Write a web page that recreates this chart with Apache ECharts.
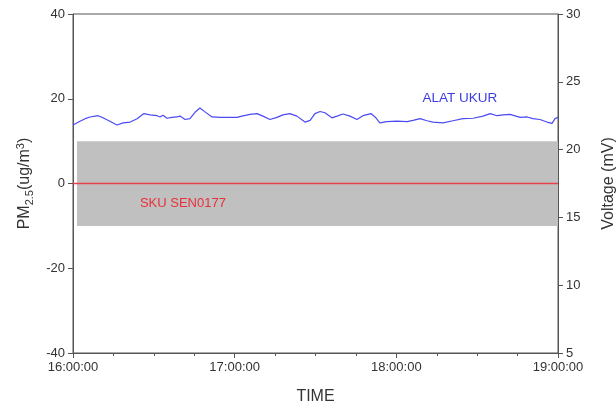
<!DOCTYPE html>
<html>
<head>
<meta charset="utf-8">
<script src="https://cdn.jsdelivr.net/npm/echarts@6/dist/echarts.min.js"></script>
<style>html,body{margin:0;padding:0;background:#fff;}#c{width:616px;height:405px;}</style>
</head>
<body>
<div id="c"></div>
<script>
// minutes after 16:00:00
var alatMinutes = [0,2.6,4.5,6.3,8.2,9.3,11.1,13.7,16.3,18.6,21.2,23.8,26.3,28.6,31.2,32.3,33.4,34.9,36.7,38.6,39.7,41.6,43.4,45.3,47.1,49.0,51.6,54.6,58.3,60.9,62.7,65.7,68.3,70.5,73.1,75.7,77.9,80.5,83.1,86.1,88.0,89.8,91.7,93.5,96.1,98.0,100.2,102.8,105.4,107.6,110.6,112.1,113.9,116.5,120.2,124.0,126.2,128.8,131.4,133.6,137.3,141.0,144.7,148.5,152.2,154.8,157.4,159.6,162.2,165.9,168.5,170.7,173.3,175.9,177.8,178.9,180];
var alatValues = [13.8,14.7,15.3,15.7,15.9,16.0,15.5,14.7,13.8,14.3,14.5,15.3,16.5,16.2,16.0,15.7,16.1,15.4,15.6,15.7,15.9,15.1,15.3,16.8,17.8,16.9,15.7,15.6,15.6,15.6,15.9,16.3,16.5,15.9,15.1,15.6,16.2,16.5,15.9,14.5,14.9,16.5,17.0,16.7,15.5,15.9,16.4,15.9,15.1,16.0,16.5,15.7,14.3,14.6,14.7,14.6,14.9,15.3,14.8,14.5,14.3,14.8,15.3,15.4,15.9,16.5,16.0,16.2,16.3,15.6,15.7,15.3,15.1,14.5,14.2,15.3,15.6];
var skuMinutes = [0,180];
var skuValues = [0,0];
var bandRange = [-10,10];
var bandStartMinute = 1.5;
var xTickLabels = ['16:00:00','17:00:00','18:00:00','19:00:00'];

var chart = echarts.init(document.getElementById('c'));
var font = 'Liberation Sans, Arial, sans-serif';
function zip(a,b){return a.map(function(v,i){return [v,b[i]];});}
chart.setOption({
  animation:false,
  backgroundColor:'#fff',
  color:['#c0c0c0','#e8404a','#4b4bf5'],
  textStyle:{fontFamily:font},
  grid:{left:73,right:58,top:14,bottom:52,show:true,borderColor:'#555',borderWidth:1,outerBoundsMode:'none',containLabel:false},
  xAxis:{
    type:'value',min:0,max:180,interval:60,
    name:'TIME',nameLocation:'middle',nameGap:36,
    nameTextStyle:{fontSize:16,color:'#333',fontFamily:font},
    axisLine:{show:true,onZero:false,lineStyle:{color:'#555'}},
    axisTick:{show:true,length:5,lineStyle:{color:'#555'}},
    minorTick:{show:true,splitNumber:4,length:3,lineStyle:{color:'#555'}},
    splitLine:{show:false},minorSplitLine:{show:false},
    axisLabel:{fontSize:13,color:'#333',margin:8,fontFamily:font,
      formatter:function(v){return xTickLabels[Math.round(v/60)];}}
  },
  yAxis:[{
    type:'value',min:-40,max:40,interval:20,position:'left',
    name:'{a|PM}{s|2.5}{a|(ug/m}{p|3}{a|)}',nameLocation:'middle',nameGap:38,nameRotate:90,
    nameTextStyle:{rich:{
      a:{fontSize:16,color:'#333',fontFamily:font},
      s:{fontSize:11,color:'#333',fontFamily:font,verticalAlign:'bottom',padding:[9,0,0,0]},
      p:{fontSize:11,color:'#333',fontFamily:font,verticalAlign:'top',padding:[0,0,9,0]}
    }},
    axisLine:{show:true,onZero:false,lineStyle:{color:'#555'}},
    axisTick:{show:true,length:5,lineStyle:{color:'#555'}},
    splitLine:{show:false},
    axisLabel:{fontSize:13,color:'#333',margin:8,fontFamily:font}
  },{
    type:'value',min:5,max:30,interval:5,position:'right',
    name:'Voltage (mV)',nameLocation:'middle',nameGap:43,nameRotate:90,
    nameTextStyle:{fontSize:16,color:'#333',fontFamily:font},
    axisLine:{show:true,onZero:false,lineStyle:{color:'#555'}},
    axisTick:{show:true,length:5,lineStyle:{color:'#555'}},
    splitLine:{show:false},
    axisLabel:{fontSize:13,color:'#333',margin:8,fontFamily:font}
  }],
  series:[{
    name:'band',type:'line',data:[],z:1,symbol:'none',
    markArea:{silent:true,itemStyle:{color:'#c0c0c0',opacity:1},label:{show:false},
      data:[[{coord:[bandStartMinute,bandRange[0]]},{coord:[180,bandRange[1]]}]]}
  },{
    name:'SKU SEN0177',type:'line',data:zip(skuMinutes,skuValues),
    symbol:'none',z:5,itemStyle:{color:'#e8404a'},lineStyle:{color:'#e8404a',width:1.3,opacity:1},
    markPoint:{symbol:'circle',symbolSize:2,silent:true,itemStyle:{color:'rgba(0,0,0,0)'},
      label:{show:true,position:'inside',formatter:'SKU SEN0177',color:'#e8303a',fontSize:13,fontFamily:font},
      data:[{coord:[40.8,-4.7]}]}
  },{
    name:'ALAT UKUR',type:'line',data:zip(alatMinutes,alatValues),
    symbol:'none',z:4,itemStyle:{color:'#4b4bf5'},lineStyle:{color:'#4b4bf5',width:1.2},
    markPoint:{symbol:'circle',symbolSize:2,silent:true,itemStyle:{color:'rgba(0,0,0,0)'},
      label:{show:true,position:'inside',formatter:'ALAT UKUR',color:'#3c3ce0',fontSize:13.5,fontFamily:font},
      data:[{coord:[143.6,20]}]}
  }]
});
</script>
</body>
</html>
